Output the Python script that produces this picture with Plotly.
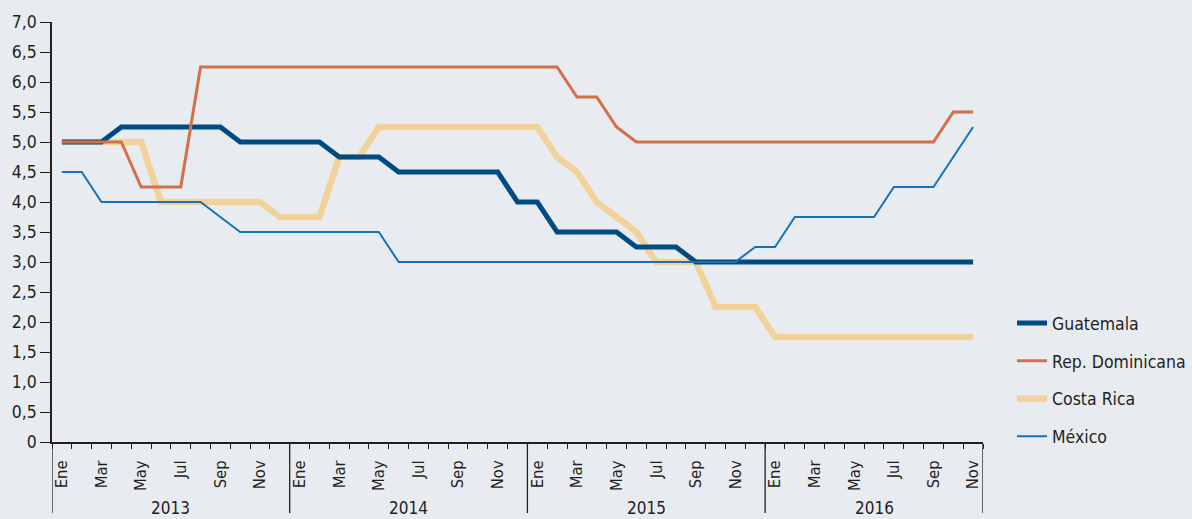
import plotly.graph_objects as go

# Monthly policy rates, Jan 2013 - Nov 2016
month_names = ["Ene", "Feb", "Mar", "Abr", "May", "Jun", "Jul", "Ago", "Sep", "Oct", "Nov", "Dic"]
years = [2013, 2014, 2015, 2016]
n_months = 47

guatemala = [5.0, 5.0, 5.0, 5.25, 5.25, 5.25, 5.25, 5.25, 5.25, 5.0, 5.0, 5.0,
             5.0, 5.0, 4.75, 4.75, 4.75, 4.5, 4.5, 4.5, 4.5, 4.5, 4.5, 4.0,
             4.0, 3.5, 3.5, 3.5, 3.5, 3.25, 3.25, 3.25, 3.0, 3.0, 3.0, 3.0,
             3.0, 3.0, 3.0, 3.0, 3.0, 3.0, 3.0, 3.0, 3.0, 3.0, 3.0]
rep_dominicana = [5.0, 5.0, 5.0, 5.0, 4.25, 4.25, 4.25, 6.25, 6.25, 6.25, 6.25, 6.25,
                  6.25, 6.25, 6.25, 6.25, 6.25, 6.25, 6.25, 6.25, 6.25, 6.25, 6.25, 6.25,
                  6.25, 6.25, 5.75, 5.75, 5.25, 5.0, 5.0, 5.0, 5.0, 5.0, 5.0, 5.0,
                  5.0, 5.0, 5.0, 5.0, 5.0, 5.0, 5.0, 5.0, 5.0, 5.5, 5.5]
costa_rica = [5.0, 5.0, 5.0, 5.0, 5.0, 4.0, 4.0, 4.0, 4.0, 4.0, 4.0, 3.75,
              3.75, 3.75, 4.75, 4.75, 5.25, 5.25, 5.25, 5.25, 5.25, 5.25, 5.25, 5.25,
              5.25, 4.75, 4.5, 4.0, 3.75, 3.5, 3.0, 3.0, 3.0, 2.25, 2.25, 2.25,
              1.75, 1.75, 1.75, 1.75, 1.75, 1.75, 1.75, 1.75, 1.75, 1.75, 1.75]
mexico = [4.5, 4.5, 4.0, 4.0, 4.0, 4.0, 4.0, 4.0, 3.75, 3.5, 3.5, 3.5,
          3.5, 3.5, 3.5, 3.5, 3.5, 3.0, 3.0, 3.0, 3.0, 3.0, 3.0, 3.0,
          3.0, 3.0, 3.0, 3.0, 3.0, 3.0, 3.0, 3.0, 3.0, 3.0, 3.0, 3.25,
          3.25, 3.75, 3.75, 3.75, 3.75, 3.75, 4.25, 4.25, 4.25, 4.75, 5.25]

y_ticks = [0, 0.5, 1, 1.5, 2, 2.5, 3, 3.5, 4, 4.5, 5, 5.5, 6, 6.5, 7]
y_tick_text = ["0", "0,5", "1,0", "1,5", "2,0", "2,5", "3,0", "3,5",
               "4,0", "4,5", "5,0", "5,5", "6,0", "6,5", "7,0"]

x = list(range(n_months))
month_labels = [month_names[i % 12] for i in x]

FONT = "Liberation Sans Narrow, DejaVu Sans Condensed, Arial Narrow, sans-serif"
INK = "#231f20"
BG = "#e8ecf1"

series = [
    # (name, values, color, width, legend rank) -- drawn bottom to top
    ("Costa Rica", costa_rica, "#f3d19b", 6.5, 3),
    ("Guatemala", guatemala, "#004b82", 5, 1),
    ("Rep. Dominicana", rep_dominicana, "#d2704a", 3, 2),
    ("México", mexico, "#1672b9", 2, 4),
]

fig = go.Figure()
for name, vals, color, width, rank in series:
    fig.add_trace(go.Scatter(
        x=x, y=vals, mode="lines", name=name,
        line=dict(color=color, width=width),
        legendrank=rank, legendgroup=name,
    ))

# Year brackets under the month labels
boundaries = [-0.5, 11.5, 23.5, 35.5, n_months - 0.5]
for b in boundaries:
    fig.add_shape(type="line", xref="x", yref="paper", x0=b, x1=b, y0=0, y1=-0.169,
                  line=dict(color=INK, width=1.3))
for k, yr in enumerate(years):
    center = (boundaries[k] + boundaries[k + 1]) / 2
    fig.add_annotation(x=center, y=-0.157, xref="x", yref="paper", text=str(yr),
                       showarrow=False, yanchor="middle",
                       font=dict(family=FONT, size=17, color=INK))

fig.update_xaxes(
    range=[-0.5, n_months - 0.5],
    tickvals=x[::2], ticktext=month_labels[::2], tickangle=-90,
    ticks="", ticklabelstandoff=10,
    minor=dict(tickvals=[i - 0.5 for i in range(n_months + 1)], ticks="outside",
               ticklen=5, tickwidth=1, tickcolor=INK),
    showline=True, linecolor=INK, linewidth=1.5,
    showgrid=False, zeroline=False,
    tickfont=dict(family=FONT, size=16.5, color=INK),
)
fig.update_yaxes(
    range=[0, 7], tickvals=y_ticks, ticktext=y_tick_text,
    ticks="outside", ticklen=10, tickwidth=1, tickcolor=INK,
    showline=True, linecolor=INK, linewidth=1.5,
    showgrid=False, zeroline=False,
    tickfont=dict(family=FONT, size=17.5, color=INK),
)

fig.update_layout(
    width=1192, height=519,
    margin=dict(l=52, r=209, t=22, b=77, autoexpand=False),
    paper_bgcolor=BG, plot_bgcolor=BG,
    showlegend=True,
    legend=dict(xref="container", yref="container", x=0.849, y=0.412,
                xanchor="left", yanchor="top",
                tracegroupgap=12, bgcolor="rgba(0,0,0,0)",
                font=dict(family=FONT, size=17.5, color=INK)),
)

fig.write_html("out.html")
